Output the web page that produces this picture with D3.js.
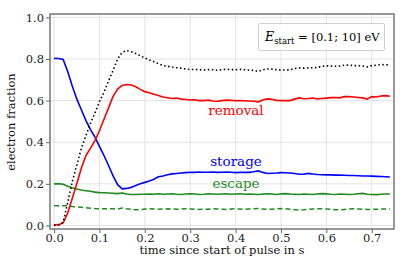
<!doctype html>
<html>
<head>
<style type="text/css">
body { margin: 0; background: white; }
text { font-family: "DejaVu Serif", "Liberation Serif", serif; }
.tick text { font-size: 11.5px; fill: #222; }
.axis-label { font-size: 11.5px; fill: #111; }
.curve-label { font-size: 13.5px; }
</style>
</head>
<body>
<svg width="415" height="260"></svg>
<script src="https://d3js.org/d3.v7.min.js"></script>
<script>
var time = [0.00,0.01,0.02,0.03,0.04,0.05,0.06,0.07,0.08,0.09,
            0.10,0.11,0.12,0.13,0.14,0.15,0.16,0.17,0.18,0.19,
            0.20,0.21,0.22,0.23,0.24,0.25,0.26,0.27,0.28,0.29,
            0.30,0.31,0.32,0.33,0.34,0.35,0.36,0.37,0.38,0.39,
            0.40,0.41,0.42,0.43,0.44,0.45,0.46,0.47,0.48,0.49,
            0.50,0.51,0.52,0.53,0.54,0.55,0.56,0.57,0.58,0.59,
            0.60,0.61,0.62,0.63,0.64,0.65,0.66,0.67,0.68,0.69,
            0.70,0.71,0.72,0.73,0.74];

var total = [0.000,0.002,0.015,0.110,0.210,0.290,0.370,0.430,0.490,0.540,
             0.595,0.640,0.695,0.745,0.800,0.832,0.840,0.835,0.826,0.815,
             0.805,0.795,0.787,0.777,0.768,0.765,0.761,0.758,0.755,0.752,
             0.749,0.750,0.748,0.747,0.749,0.748,0.746,0.749,0.750,0.749,
             0.748,0.750,0.748,0.746,0.745,0.740,0.748,0.752,0.751,0.748,
             0.747,0.747,0.748,0.754,0.757,0.756,0.757,0.758,0.759,0.764,
             0.767,0.766,0.765,0.766,0.770,0.771,0.768,0.768,0.766,0.762,
             0.768,0.770,0.773,0.772,0.771];

var removal = [0.003,0.004,0.012,0.060,0.130,0.200,0.275,0.335,0.370,0.408,
               0.455,0.510,0.565,0.620,0.655,0.673,0.677,0.675,0.666,0.654,
               0.643,0.638,0.630,0.624,0.617,0.614,0.610,0.612,0.607,0.605,
               0.603,0.604,0.600,0.600,0.602,0.598,0.597,0.600,0.602,0.601,
               0.599,0.600,0.599,0.598,0.597,0.594,0.603,0.608,0.606,0.601,
               0.600,0.600,0.600,0.607,0.613,0.609,0.610,0.612,0.608,0.610,
               0.612,0.614,0.615,0.613,0.619,0.619,0.617,0.615,0.613,0.607,
               0.619,0.617,0.622,0.624,0.621];

var storage = [0.803,0.802,0.798,0.740,0.670,0.608,0.556,0.505,0.462,0.424,
               0.380,0.336,0.288,0.238,0.196,0.176,0.178,0.183,0.192,0.200,
               0.207,0.214,0.222,0.234,0.238,0.244,0.248,0.250,0.252,0.254,
               0.256,0.255,0.257,0.256,0.256,0.257,0.255,0.256,0.257,0.256,
               0.254,0.255,0.256,0.255,0.258,0.262,0.255,0.250,0.251,0.252,
               0.254,0.253,0.252,0.250,0.246,0.246,0.250,0.247,0.245,0.244,
               0.243,0.243,0.242,0.242,0.241,0.240,0.240,0.239,0.238,0.238,
               0.237,0.236,0.235,0.234,0.233];

var escape = [0.200,0.201,0.198,0.188,0.181,0.175,0.170,0.167,0.164,0.160,
              0.158,0.157,0.156,0.155,0.153,0.156,0.151,0.149,0.149,0.150,
              0.150,0.151,0.150,0.152,0.150,0.151,0.152,0.150,0.149,0.151,
              0.152,0.151,0.149,0.150,0.152,0.151,0.150,0.151,0.152,0.150,
              0.151,0.152,0.150,0.151,0.150,0.149,0.151,0.152,0.151,0.149,
              0.152,0.153,0.151,0.150,0.149,0.151,0.150,0.149,0.151,0.153,
              0.152,0.150,0.149,0.151,0.150,0.149,0.150,0.152,0.154,0.150,
              0.149,0.148,0.150,0.151,0.151];

var escapeDashed = [0.095,0.095,0.095,0.094,0.091,0.089,0.087,0.085,0.083,0.081,
                    0.080,0.080,0.081,0.080,0.079,0.084,0.080,0.077,0.075,0.076,
                    0.079,0.080,0.079,0.078,0.079,0.080,0.079,0.078,0.079,0.080,
                    0.079,0.078,0.077,0.078,0.078,0.080,0.079,0.078,0.077,0.079,
                    0.080,0.079,0.078,0.079,0.080,0.081,0.079,0.077,0.078,0.080,
                    0.081,0.080,0.078,0.076,0.074,0.075,0.077,0.079,0.080,0.080,
                    0.079,0.078,0.076,0.075,0.077,0.079,0.080,0.079,0.078,0.077,
                    0.077,0.078,0.079,0.079,0.080];

var xTicks = [0.0,0.1,0.2,0.3,0.4,0.5,0.6,0.7];
var yTicks = [0.0,0.2,0.4,0.6,0.8,1.0];

window.onload = function() {
var svg = d3.select("svg");
var pLeft = 50, pRight = 394, pTop = 14, pBottom = 229;

var x = d3.scaleLinear().domain([-0.009, 0.749]).range([pLeft, pRight]);
var y = d3.scaleLinear().domain([-0.017, 1.016]).range([pBottom, pTop]);

// grid
svg.append("g").selectAll("line").data(xTicks).enter().append("line")
    .attr("x1", function(d){return x(d)}).attr("x2", function(d){return x(d)})
    .attr("y1", pTop).attr("y2", pBottom)
    .attr("stroke", "#e3e3e3").attr("stroke-width", 1);
svg.append("g").selectAll("line").data(yTicks).enter().append("line")
    .attr("y1", function(d){return y(d)}).attr("y2", function(d){return y(d)})
    .attr("x1", pLeft).attr("x2", pRight)
    .attr("stroke", "#e3e3e3").attr("stroke-width", 1);

// legend box
svg.append("rect").attr("x", 258.5).attr("y", 23.5).attr("width", 126).attr("height", 27)
    .attr("fill", "white").attr("fill-opacity", 0.85)
    .attr("stroke", "#d0d0d0").attr("stroke-width", 1).attr("rx", 1.5);
var leg = svg.append("text").attr("x", 265).attr("y", 41).style("font-size", "11.5px");
leg.append("tspan").style("font-style", "italic").style("font-size", "12.5px").text("E");
leg.append("tspan").attr("dy", 3).style("font-size", "8.5px").text("start");
leg.append("tspan").attr("dy", -3).text(" = [0.1; 10] eV");

// curves
var line = function(vals) {
    return d3.line()
        .x(function(d, i){return x(time[i])})
        .y(function(d){return y(d)})(vals);
};
svg.append("path").attr("d", line(escapeDashed)).attr("fill", "none")
    .attr("stroke", "#1f8a1f").attr("stroke-width", 1.5).attr("stroke-dasharray", "5,3");
svg.append("path").attr("d", line(escape)).attr("fill", "none")
    .attr("stroke", "#1f8a1f").attr("stroke-width", 1.6);
svg.append("path").attr("d", line(storage)).attr("fill", "none")
    .attr("stroke", "#0000ff").attr("stroke-width", 1.6);
svg.append("path").attr("d", line(removal)).attr("fill", "none")
    .attr("stroke", "#ff0000").attr("stroke-width", 1.6);
svg.append("path").attr("d", line(total)).attr("fill", "none")
    .attr("stroke", "#000").attr("stroke-width", 1.6).attr("stroke-dasharray", "1.5,2.5");

// curve labels
svg.append("text").attr("class", "curve-label").attr("x", 236).attr("y", 115)
    .attr("text-anchor", "middle").attr("fill", "#ff0000").text("removal");
svg.append("text").attr("class", "curve-label").attr("x", 236).attr("y", 166)
    .attr("text-anchor", "middle").attr("fill", "#0000ff").text("storage");
svg.append("text").attr("class", "curve-label").attr("x", 236).attr("y", 188)
    .attr("text-anchor", "middle").attr("fill", "#1f8a1f").text("escape");

// axes
var xAxis = d3.axisBottom(x).tickValues(xTicks).tickFormat(d3.format(".1f")).tickSize(4).tickPadding(1);
var yAxis = d3.axisLeft(y).tickValues(yTicks).tickFormat(d3.format(".1f")).tickSize(4).tickPadding(2);
var gx = svg.append("g").attr("transform", "translate(0," + pBottom + ")").call(xAxis);
var gy = svg.append("g").attr("transform", "translate(" + pLeft + ",0)").call(yAxis);
gx.select(".domain").remove();
gy.select(".domain").remove();
gx.selectAll(".tick line").attr("stroke", "#666");
gy.selectAll(".tick line").attr("stroke", "#666");
gx.selectAll("text").attr("font-family", null).attr("font-size", null);
gy.selectAll("text").attr("font-family", null).attr("font-size", null);

// frame
svg.append("rect").attr("x", pLeft).attr("y", pTop).attr("width", pRight - pLeft).attr("height", pBottom - pTop)
    .attr("fill", "none").attr("stroke", "#777").attr("stroke-width", 1.5);

svg.append("text").attr("class", "axis-label").attr("x", 222).attr("y", 254)
    .attr("text-anchor", "middle").text("time since start of pulse in s");
svg.append("text").attr("class", "axis-label")
    .attr("transform", "translate(15,122) rotate(-90)")
    .attr("text-anchor", "middle").text("electron fraction");
};
</script>
</body>
</html>
